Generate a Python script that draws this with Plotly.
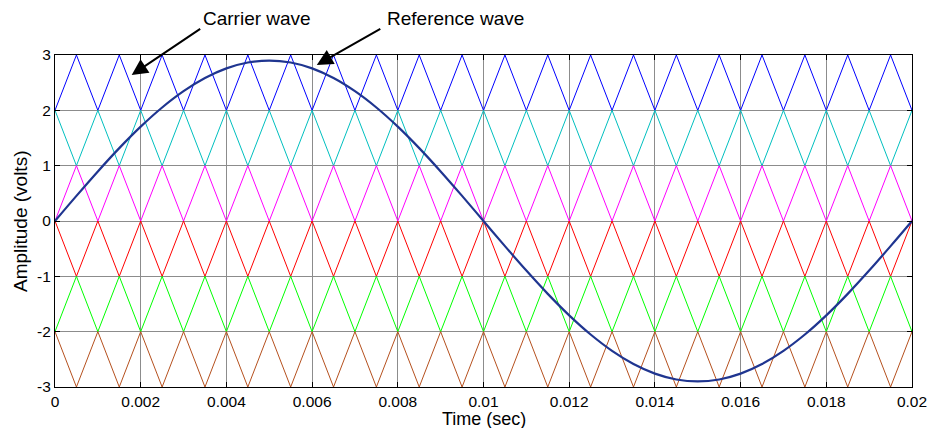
import numpy as np
import plotly.graph_objects as go

# Time samples (sec) at carrier vertices
time_s = [round(i * 0.0005, 4) for i in range(41)]

# Unit triangle pattern (0 -> 1 -> 0 ...), one vertex per 0.0005 s (1 kHz carrier)
tri_unit = [0, 1, 0, 1, 0, 1, 0, 1, 0, 1, 0, 1, 0, 1, 0, 1, 0, 1, 0, 1,
            0, 1, 0, 1, 0, 1, 0, 1, 0, 1, 0, 1, 0, 1, 0, 1, 0, 1, 0, 1, 0]

# Carrier bands: (base level, inverted?, colour)
carrier_base = [2, 1, 0, -1, -2, -3]
carrier_inverted = [False, True, False, True, False, True]
carrier_colors = ["#0000FF", "#00BFBF", "#FF00FF", "#FF0000", "#00FF00", "#B5501E"]

# Reference (modulating) wave values at the same times (volts)
ref_wave = [0.0, 0.454, 0.896, 1.317, 1.705, 2.051, 2.346, 2.584, 2.758, 2.864, 2.9,
            2.864, 2.758, 2.584, 2.346, 2.051, 1.705, 1.317, 0.896, 0.454, 0.0,
            -0.454, -0.896, -1.317, -1.705, -2.051, -2.346, -2.584, -2.758, -2.864, -2.9,
            -2.864, -2.758, -2.584, -2.346, -2.051, -1.705, -1.317, -0.896, -0.454, 0.0]

x_ticks = [0, 0.002, 0.004, 0.006, 0.008, 0.01, 0.012, 0.014, 0.016, 0.018, 0.02]
x_tick_text = ["0", "0.002", "0.004", "0.006", "0.008", "0.01", "0.012", "0.014", "0.016", "0.018", "0.02"]
y_ticks = [-3, -2, -1, 0, 1, 2, 3]
y_tick_text = ["-3", "-2", "-1", "0", "1", "2", "3"]

fig = go.Figure()
for base, inv, col in zip(carrier_base, carrier_inverted, carrier_colors):
    vals = [base + (1 - v if inv else v) for v in tri_unit]
    fig.add_trace(go.Scatter(x=time_s, y=vals, mode="lines",
                             line=dict(color=col, width=1), showlegend=False,
                             hoverinfo="skip"))

fig.add_trace(go.Scatter(x=time_s, y=ref_wave, mode="lines",
                         line=dict(color="#1F3590", width=2.2, shape="spline"),
                         showlegend=False))

font_main = "Liberation Sans, Arial, sans-serif"
axis_common = dict(showline=True, linecolor="black", linewidth=1, mirror="ticks",
                   ticks="inside", ticklen=5, tickcolor="black", automargin=False,
                   showgrid=True, gridcolor="#8C8C8C", gridwidth=1,
                   zeroline=False, tickfont=dict(size=15.5, color="black", family=font_main))

fig.update_xaxes(range=[0, 0.02], tickvals=x_ticks, ticktext=x_tick_text, **axis_common)
fig.update_yaxes(range=[-3, 3], tickvals=y_ticks, ticktext=y_tick_text, **axis_common)

title_font = dict(size=19, color="black", family=font_main)
annotations = [
    dict(x=0.00179, y=2.64, xref="x", yref="y", ax=70, ay=-47, text="",
         showarrow=True, arrowhead=2, arrowsize=1.6, arrowwidth=2, arrowcolor="black"),
    dict(x=0.00611, y=2.82, xref="x", yref="y", ax=65, ay=-37, text="",
         showarrow=True, arrowhead=2, arrowsize=1.6, arrowwidth=2, arrowcolor="black"),
    dict(x=0.236, y=1.111, xref="paper", yref="paper", text="Carrier wave", showarrow=False,
         font=title_font, xanchor="center", yanchor="middle"),
    dict(x=0.467, y=1.111, xref="paper", yref="paper", text="Reference wave", showarrow=False,
         font=title_font, xanchor="center", yanchor="middle"),
    dict(x=0.5, y=-0.0964, xref="paper", yref="paper", text="Time (sec)", showarrow=False,
         font=dict(size=18, color="black", family=font_main), xanchor="center", yanchor="middle"),
    dict(x=-0.0408, y=0.5, xref="paper", yref="paper", text="Amplitude (volts)", showarrow=False,
         font=title_font, xanchor="center", yanchor="middle", textangle=-90),
]

fig.update_layout(width=930, height=428, margin=dict(l=55, r=18, t=55, b=41, autoexpand=False),
                  plot_bgcolor="white", paper_bgcolor="white",
                  annotations=annotations, font=dict(family=font_main, color="black"))

fig.write_html("out.html", config={"displayModeBar": False},
               post_script="document.body.style.margin='0px';")
